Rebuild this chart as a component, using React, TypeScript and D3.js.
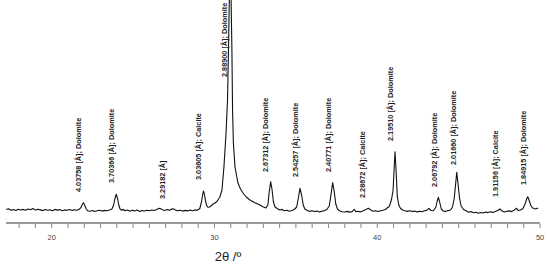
import React from "react";
import * as d3 from "d3";

// XRD pattern: [2θ (°), intensity (counts)]
const pattern: [number, number][] = [
  [17.2,125],[17.35,132],[17.5,118],[17.65,124],[17.8,115],[17.95,128],[18.1,120],[18.25,126],[18.4,117],[18.55,130],
  [18.7,122],[18.85,135],[19.0,119],[19.15,127],[19.3,121],[19.45,114],[19.6,126],[19.75,118],[19.9,123],[20.05,112],
  [20.2,126],[20.35,119],[20.5,124],[20.65,113],[20.8,121],[20.95,117],[21.1,125],[21.25,116],[21.4,122],[21.55,118],
  [21.7,128],[21.8,145],[21.88,175],[21.95,193],[22.02,170],[22.1,138],[22.2,112],[22.35,108],[22.5,115],[22.65,104],
  [22.8,112],[22.95,118],[23.1,109],[23.25,116],[23.4,113],[23.55,121],[23.7,130],[23.8,165],[23.88,230],[23.96,277],
  [24.04,240],[24.12,170],[24.2,130],[24.3,118],[24.38,128],[24.5,112],[24.65,120],[24.8,108],[24.95,117],[25.1,111],
  [25.25,119],[25.4,106],[25.55,114],[25.7,110],[25.85,118],[26.0,112],[26.15,120],[26.3,115],[26.45,125],[26.6,138],
  [26.7,133],[26.8,122],[26.95,115],[27.1,124],[27.25,118],[27.4,133],[27.5,130],[27.6,121],[27.75,112],[27.9,118],
  [28.05,109],[28.2,116],[28.35,111],[28.5,119],[28.65,113],[28.8,121],[28.95,118],[29.1,135],[29.2,200],[29.27,270],
  [29.32,310],[29.38,280],[29.45,210],[29.52,165],[29.6,148],[29.7,150],[29.8,162],[29.91,180],[30.05,192],[30.15,205],
  [30.33,250],[30.46,320],[30.58,550],[30.71,890],[30.8,1220],[30.86,1720],[30.91,2220],[30.95,3000],[31.02,2220],[31.07,1720],
  [31.11,1120],[31.16,790],[31.26,550],[31.44,390],[31.6,330],[31.75,290],[31.95,250],[32.18,220],[32.45,195],[32.79,170],
  [33.0,150],[33.16,140],[33.28,170],[33.36,300],[33.45,403],[33.53,330],[33.62,200],[33.72,150],[33.85,135],[34.0,120],
  [34.15,126],[34.3,112],[34.45,118],[34.6,108],[34.75,115],[34.9,125],[35.05,150],[35.15,240],[35.25,337],[35.35,270],
  [35.45,170],[35.55,130],[35.7,115],[35.85,106],[36.0,112],[36.15,104],[36.3,110],[36.45,101],[36.6,108],[36.75,114],
  [36.9,125],[37.05,160],[37.17,290],[37.26,393],[37.35,310],[37.45,180],[37.55,130],[37.7,110],[37.85,103],[38.0,100],
  [38.15,106],[38.3,99],[38.45,104],[38.59,127],[38.68,102],[38.8,108],[38.95,101],[39.1,110],[39.3,125],[39.45,137],
  [39.6,120],[39.75,108],[39.9,113],[40.05,104],[40.2,112],[40.35,118],[40.5,125],[40.6,140],[40.72,153],[40.8,185],
  [40.88,230],[40.97,320],[41.04,553],[41.09,703],[41.15,520],[41.23,253],[41.32,170],[41.42,137],[41.55,120],[41.7,112],
  [41.85,106],[42.0,113],[42.15,104],[42.3,110],[42.45,101],[42.6,108],[42.75,103],[42.9,112],[43.05,118],[43.17,137],
  [43.3,115],[43.45,112],[43.6,150],[43.68,210],[43.75,247],[43.83,200],[43.93,130],[44.05,110],[44.2,106],[44.35,114],
  [44.5,120],[44.62,150],[44.72,230],[44.8,360],[44.88,497],[44.96,380],[45.05,240],[45.15,160],[45.3,125],[45.45,112],
  [45.6,97],[45.75,104],[45.9,92],[46.05,98],[46.2,88],[46.35,95],[46.5,90],[46.65,100],[46.8,94],[46.95,103],
  [47.1,96],[47.25,105],[47.4,115],[47.54,130],[47.65,112],[47.8,100],[47.95,108],[48.1,111],[48.25,104],[48.4,118],
  [48.56,137],[48.65,115],[48.8,120],[48.95,135],[49.1,190],[49.17,230],[49.24,253],[49.32,220],[49.42,170],[49.52,143],
  [49.62,135],[49.72,130],[49.82,138],[49.89,137],
];

// Peak annotations
const peakPositions = [21.95, 23.98, 27.11, 29.32, 30.92, 33.44, 35.28, 37.25, 39.34, 41.06, 43.76, 44.93, 47.51, 49.24];
const peakLabels = [
  "4.03758 [Å]; Dolomite",
  "3.70366 [Å]; Dolomite",
  "3.29182 [Å]",
  "3.03605 [Å]; Calcite",
  "2.88900 [Å]; Dolomite",
  "2.67312 [Å]; Dolomite",
  "2.54257 [Å]; Dolomite",
  "2.40771 [Å]; Dolomite",
  "2.28672 [Å]; Calcite",
  "2.19510 [Å]; Dolomite",
  "2.06792 [Å]; Dolomite",
  "2.01660 [Å]; Dolomite",
  "1.91156 [Å]; Calcite",
  "1.84915 [Å]; Dolomite",
];
const labelLevels = [300, 390, 230, 420, 1450, 500, 450, 500, 240, 810, 350, 570, 250, 370];

const xTicksMajor = [20, 30, 40, 50];
const xTicksMinor = d3.range(18, 51, 1);
const xTitle = "2θ /º";

export default function App() {
  const W = 550, H = 266;
  const x = d3.scaleLinear().domain([17.2, 50]).range([6.1, 540.1]);
  const y = d3.scaleLinear().domain([0, 2220]).range([222, 0]);
  const axisY = 223;
  const line = d3.line<[number, number]>().x(d => x(d[0])).y(d => y(d[1]));

  return (
    <svg width={W} height={H} style={{ position: "absolute", left: 0, top: 0, background: "#fff" }}>
      <defs>
        <clipPath id="plotClip">
          <rect x={0} y={0} width={W} height={axisY} />
        </clipPath>
      </defs>
      <rect x={0} y={0} width={W} height={H} fill="#fff" />
      <path d={line(pattern) || ""} fill="none" stroke="#111" strokeWidth={1.1} strokeLinejoin="round" clipPath="url(#plotClip)" />
      {peakLabels.map((t, i) => (
        <text
          key={t}
          transform={`translate(${x(peakPositions[i]) - 2},${y(labelLevels[i])}) rotate(-90)`}
          fontFamily="'Liberation Sans', Arial, sans-serif"
          fontSize={7.3}
          fontWeight="bold"
          fill="#222"
        >
          {t}
        </text>
      ))}
      <line x1={x(17.2)} x2={x(50)} y1={axisY} y2={axisY} stroke="#9a9a9a" strokeWidth={2} />
      {xTicksMinor.map(v => (
        <line key={v} x1={x(v)} x2={x(v)} y1={axisY + 1} y2={axisY + 5} stroke="#666" strokeWidth={0.8} />
      ))}
      {xTicksMajor.map(v => (
        <text key={v} x={x(v)} y={240} textAnchor="middle" fontFamily="'Liberation Sans', Arial, sans-serif" fontSize={7.5} fill="#444">
          {v}
        </text>
      ))}
      <text x={228} y={261} textAnchor="middle" fontFamily="'Liberation Sans', Arial, sans-serif" fontSize={13} fill="#222">
        {xTitle}
      </text>
    </svg>
  );
}
